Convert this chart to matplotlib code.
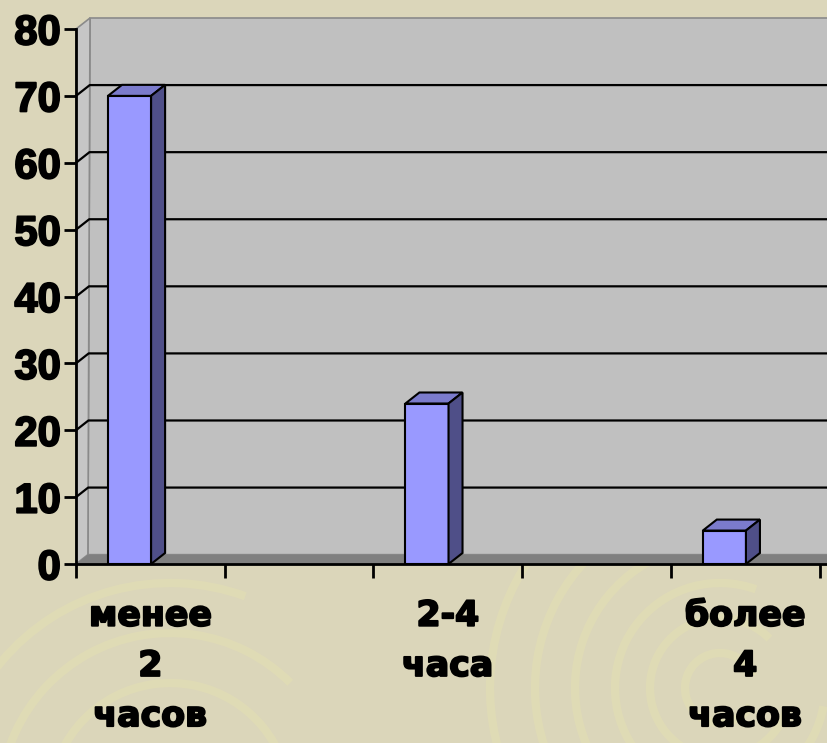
import numpy as np
import matplotlib
matplotlib.use("Agg")
import matplotlib.pyplot as plt
import matplotlib.patheffects as pe
from matplotlib.patches import Polygon, Arc
from matplotlib.transforms import IdentityTransform

# data
categories = ["менее\n2\nчасов", "2-4\nчаса", "более\n4\nчасов"]
cat_pos = [0.5, 2.5, 4.5]
values = [70, 24, 5]
y_ticks = [0, 10, 20, 30, 40, 50, 60, 70, 80]

bg = "#DBD6BA"
wall = "#C0C0C0"
floor_c = "#808080"
bar_front = "#9999FF"
bar_top = "#7B7BCC"
bar_side = "#4F4F88"
depth = np.array([14.0, 11.0])  # 3d depth offset in pixels

fig = plt.figure(figsize=(8.27, 7.43), dpi=100, facecolor=bg)

# faint swirls in the background
for (cx, cy), radii in [((720, 55), [35, 70, 105, 145, 185, 230]),
                        ((170, -60), [120, 170, 220])]:
    for i, r in enumerate(radii):
        a = Arc((cx, cy), 2 * r, 2 * r, theta1=20 + 25 * i, theta2=330 + 10 * i,
                transform=IdentityTransform(), color="#E4E0B2", lw=6, alpha=0.5, zorder=-5)
        fig.add_artist(a)

ax = fig.add_axes([76 / 827, 1 - 564 / 743, 1 - 76 / 827, (564 - 29) / 743])
ax.set_xlim(0, 5.05)
ax.set_ylim(0, 80)
ax.patch.set_visible(False)
xmax = 6.0


def to(x, y, d=0.0):
    p = ax.transData.transform((x, y))
    return p + d * depth


def poly(pts, fc, ec="none", lw=0, z=0.5):
    ax.add_patch(Polygon(pts, closed=True, transform=IdentityTransform(), facecolor=fc,
                         edgecolor=ec, lw=lw, zorder=z, clip_on=False))


# floor, back wall and side wall
poly([to(0, 0), to(xmax, 0), to(xmax, 0, 0.85), to(0, 0, 0.85)], floor_c, z=0.4)
poly([to(0, 0, 0.85), to(xmax, 0, 0.85), to(xmax, 80, 1), to(0, 80, 1)], wall, ec="#8A8A8A", lw=1.2, z=0.3)
poly([to(0, 0), to(0, 0, 0.85), to(0, 80, 1), to(0, 80)], "#C6C6C6", ec="#8A8A8A", lw=1.2, z=0.35)

for v in y_ticks[1:-1]:
    d = 0.85 + 0.15 * v / 80
    pts = np.array([to(0, v), to(0, v, d), to(xmax, v, d)])
    ax.plot(pts[:, 0], pts[:, 1], color="black", lw=1.6, transform=IdentityTransform(),
            zorder=0.6, clip_on=False)

# bars with 3d top and side faces
bar_w = 0.29
bar_x = [p - 0.14 for p in cat_pos]
bars = ax.bar(bar_x, values, width=bar_w, color=bar_front, edgecolor="black", lw=1.5, zorder=2)
for b in bars:
    x0, x1, h = b.get_x(), b.get_x() + b.get_width(), b.get_height()
    poly([to(x0, h), to(x1, h), to(x1, h, 1), to(x0, h, 1)], bar_top, ec="black", lw=1.5, z=2.1)
    poly([to(x1, 0), to(x1, h), to(x1, h, 1), to(x1, 0, 1)], bar_side, ec="black", lw=1.5, z=2.1)

for s in ["top", "right"]:
    ax.spines[s].set_visible(False)
for s in ["left", "bottom"]:
    ax.spines[s].set_linewidth(2)
    ax.spines[s].set_zorder(3)

heavy = [pe.withStroke(linewidth=1.4, foreground="black")]

ax.set_yticks(y_ticks)
ax.set_yticklabels([str(t) for t in y_ticks], fontsize=30, fontweight="bold",
                   family="Liberation Sans")
for t in ax.get_yticklabels():
    t.set_path_effects(heavy)
ax.tick_params(axis="y", length=9, width=2, pad=2)
ax.set_xticks([0, 1, 2, 3, 4, 5])
ax.set_xticklabels([])
ax.tick_params(axis="x", which="major", length=10, width=2)
ax.set_xticks(cat_pos, minor=True)
ax.set_xticklabels(categories, minor=True, fontsize=25, fontweight="bold", linespacing=1.6)
for t in ax.get_xticklabels(minor=True):
    t.set_path_effects(heavy)
ax.tick_params(axis="x", which="minor", length=0, pad=25)

fig.savefig("out.png", dpi=100, facecolor=bg)
